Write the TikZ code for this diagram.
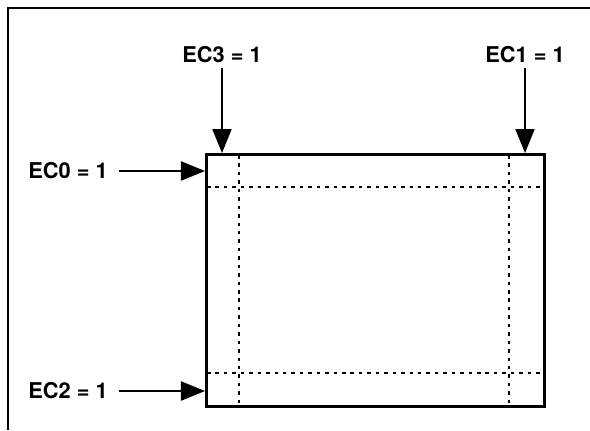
\documentclass[tikz,border=0pt]{standalone}
\usepackage{fontspec}
\setmainfont{TeX Gyre Heros}
\usepackage{tikz}
\usetikzlibrary{arrows.meta}
\tikzset{lbl/.style={font=\bfseries\fontsize{15.5}{18}\selectfont, inner sep=0pt}}
\tikzset{edge/.style={black, line width=1pt, ->, >={Triangle[length=0.6cm, width=0.48cm]}}}
\tikzset{grid/.style={black, line width=1pt, dash pattern=on 2.5pt off 3.5pt}}

\begin{document}
\begin{tikzpicture}[x=0.025cm, y=-0.025cm]
\useasboundingbox (0,0) rectangle (590,430);
\draw[black, line width=1.5pt] (8,430) -- (8,8) -- (590,8);
% plate with its edge strips
\node[draw, line width=2.2pt, minimum width=8.45cm, minimum height=6.3cm, inner sep=0pt, anchor=north west] (plate) at (205,153) {};
\foreach \x in {239,509} \draw[grid] (\x,155) -- (\x,403);
\foreach \y in {187,373} \draw[grid] (207,\y) -- (541,\y);
\node[lbl] (ec3) at (222,55) {EC3 = 1};
\node[lbl] (ec1) at (525,55) {EC1 = 1};
\node[lbl] (ec0) at (68,171) {EC0 = 1};
\node[lbl] (ec2) at (68,391) {EC2 = 1};
\draw[edge, shorten <=3pt] (ec3.south) -- (ec3.south |- plate.north);
\draw[edge, shorten <=3pt] (ec1.south) -- (ec1.south |- plate.north);
\draw[edge, shorten <=8pt] (ec0.east) -- (ec0.east -| plate.west);
\draw[edge, shorten <=8pt] (ec2.east) -- (ec2.east -| plate.west);
\end{tikzpicture}
\end{document}
